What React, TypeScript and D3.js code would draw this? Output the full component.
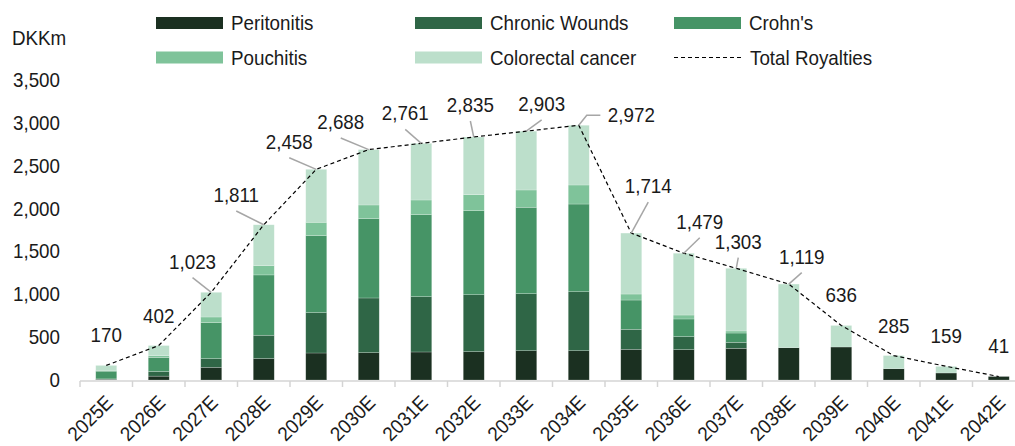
import React from 'react'
import * as d3 from 'd3'

const years = ['2025E', '2026E', '2027E', '2028E', '2029E', '2030E', '2031E', '2032E', '2033E', '2034E', '2035E', '2036E', '2037E', '2038E', '2039E', '2040E', '2041E', '2042E']
const peritonitis = [8, 45, 148, 250, 315, 319, 327, 331, 342, 342, 358, 354, 369, 377, 385, 132, 82, 41]
const chronicWounds = [5, 55, 101, 272, 471, 638, 645, 664, 665, 688, 233, 152, 70, 0, 0, 0, 0, 0]
const crohns = [90, 163, 420, 704, 898, 925, 957, 980, 1008, 1023, 342, 206, 109, 0, 0, 0, 0, 0]
const pouchitis = [10, 20, 66, 109, 156, 160, 171, 187, 202, 222, 70, 46, 24, 0, 0, 0, 0, 0]
const colorectal = [57, 119, 288, 476, 618, 646, 661, 673, 686, 697, 711, 721, 731, 742, 251, 153, 77, 0]
const totals = [170, 402, 1023, 1811, 2458, 2688, 2761, 2835, 2903, 2972, 1714, 1479, 1303, 1119, 636, 285, 159, 41]
const yTicks = [0, 500, 1000, 1500, 2000, 2500, 3000, 3500]

const seriesNames = ['Peritonitis', 'Chronic Wounds', "Crohn's", 'Pouchitis', 'Colorectal cancer']
const colors = ['#1b3021', '#2f6646', '#469466', '#7fc39a', '#bcdfcb']

// label placement for the total labels (offset from the line point), and leader kind
const labelNudge: [number, number, string][] = [
  [0, -30, 'none'], [0, -30, 'none'], [-18.7, -30.6, 'line'], [-27.5, -29.8, 'line'],
  [-27, -27.6, 'line'], [-28, -27.6, 'line'], [-16, -30, 'line'], [-3.4, -32, 'line'],
  [15.4, -27.2, 'line'], [52.6, -10, 'elbow'], [17, -47, 'line'], [16, -31.5, 'line'],
  [2, -26.6, 'line'], [13, -27.4, 'line'], [0, -30, 'none'], [0, -30, 'none'],
  [0, -30, 'none'], [0, -30, 'none'],
]

const W = 1015
const H = 446
const font = '"Liberation Sans", Arial, sans-serif'
const textColor = '#1a1a1a'

// condensed-looking text: regular sans squeezed a little horizontally
const T = ({ x, y, anchor = 'start', rotate = 0, children }: any) => (
  <text transform={`translate(${x},${y}) rotate(${rotate}) scale(0.94,1)`} dy="0.35em"
    textAnchor={anchor} fontSize={20} fill={textColor}>{children}</text>
)

export default function App() {
  const x = d3.scaleBand<string>()
    .domain(years)
    .range([80, 80 + 52.5 * years.length])
    .paddingInner(0.6)
    .paddingOuter(0.3)

  const y = d3.scaleLinear().domain([0, 3500]).range([380, 80])

  const rows = years.map((yr, i) => ({
    year: yr,
    s0: peritonitis[i],
    s1: chronicWounds[i],
    s2: crohns[i],
    s3: pouchitis[i],
    s4: colorectal[i],
  }))
  const stacked = d3.stack<any>().keys(['s0', 's1', 's2', 's3', 's4'])(rows)

  const cx = (i: number) => (x(years[i]) as number) + x.bandwidth() / 2

  const line = d3.line<number>()
    .x((_, i) => cx(i))
    .y(d => y(d))

  const step = x.step()

  return (
    <svg width={W} height={H} style={{ position: 'absolute', left: 0, top: 0, fontFamily: font }}>
      <rect width={W} height={H} fill="#fff" />

      {/* legend */}
      {seriesNames.map((name, i) => {
        const col = i % 3
        const row = Math.floor(i / 3)
        const lx = [156, 415, 674][col]
        const ly = [23, 57.5][row]
        return (
          <g key={name}>
            <rect x={lx} y={ly - 6} width={67} height={12} fill={colors[i]} />
            <T x={lx + 75} y={ly}>{name}</T>
          </g>
        )
      })}
      <line x1={674} x2={741} y1={57.5} y2={57.5} stroke="#000" strokeWidth={1.2} strokeDasharray="4,3" />
      <T x={750} y={57.5}>Total Royalties</T>

      <T x={12} y={38}>DKKm</T>

      {/* y axis labels */}
      {yTicks.map(t => (
        <T key={t} x={60} y={y(t)} anchor="end">{d3.format(',')(t)}</T>
      ))}

      {/* bars */}
      {stacked.map((layer, k) => (
        <g key={k} fill={colors[k]}>
          {layer.map((d, i) => d[1] - d[0] > 0 ? (
            <rect key={i} x={x(years[i])} width={x.bandwidth()} y={y(d[1])} height={y(d[0]) - y(d[1])}
              stroke="#ffffff" strokeOpacity={0.35} strokeWidth={0.6} />
          ) : null)}
        </g>
      ))}

      {/* x axis */}
      <line x1={80} x2={80 + step * years.length} y1={381} y2={381} stroke="#d4d4d4" strokeWidth={1.5} />
      {d3.range(years.length + 1).map(i => (
        <line key={i} x1={80 + i * step} x2={80 + i * step} y1={381} y2={387} stroke="#d4d4d4" strokeWidth={1.5} />
      ))}
      {years.map((yr, i) => (
        <T key={yr} x={cx(i) + 3} y={399} anchor="end" rotate={-45}>{yr}</T>
      ))}

      {/* total line */}
      <path d={line(totals) || ''} fill="none" stroke="#000" strokeWidth={1.2} strokeDasharray="4,3" />

      {/* total labels with leaders */}
      {totals.map((v, i) => {
        const px = cx(i)
        const py = y(v)
        const [dx, dy, kind] = labelNudge[i]
        const lx = px + dx
        const ly = py + dy
        let leader = null
        if (kind === 'line') {
          leader = <line x1={lx} y1={ly + 16} x2={px} y2={py} stroke="#a6a6a6" strokeWidth={1.5} />
        } else if (kind === 'elbow') {
          leader = <polyline points={`${px},${py} ${px + 8},${ly} ${lx - 31},${ly}`} fill="none" stroke="#a6a6a6" strokeWidth={1.5} />
        }
        return (
          <g key={i}>
            {leader}
            <T x={lx} y={ly} anchor="middle">{d3.format(',')(v)}</T>
          </g>
        )
      })}
    </svg>
  )
}
